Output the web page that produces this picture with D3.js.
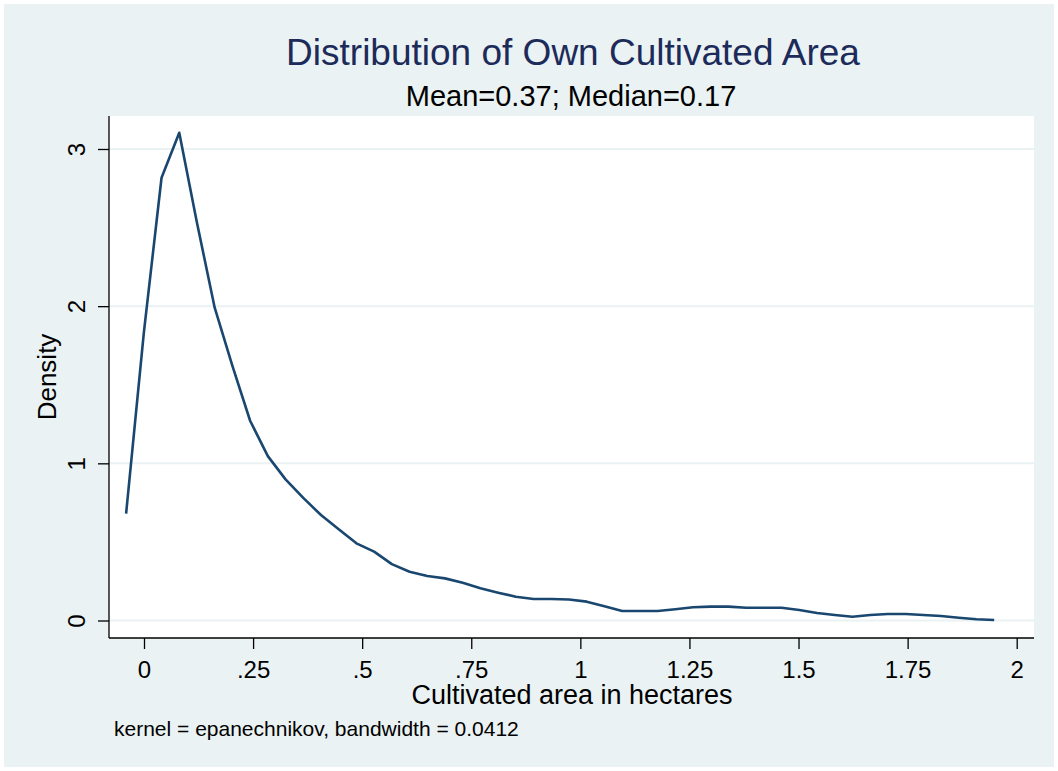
<!DOCTYPE html>
<html>
<head>
<meta charset="utf-8">
<script src="https://d3js.org/d3.v7.min.js"></script>
<style>
  body { margin: 0; background: #ffffff; }
  svg text { font-family: "Liberation Sans", Arial, sans-serif; }
</style>
</head>
<body>
<div id="chart"></div>
<script>
// kernel density estimate (50 evaluation points)
var gridX = [-0.041, -0.0004, 0.0402, 0.0808, 0.1214, 0.162, 0.2026, 0.2432, 0.2838, 0.3244,
  0.365, 0.4056, 0.4462, 0.4868, 0.5274, 0.568, 0.6086, 0.6492, 0.6898, 0.7304,
  0.771, 0.8116, 0.8522, 0.8928, 0.9334, 0.974, 1.0146, 1.0552, 1.0958, 1.1364,
  1.177, 1.2176, 1.2582, 1.2988, 1.3394, 1.38, 1.4206, 1.4612, 1.5018, 1.5424,
  1.583, 1.6236, 1.6642, 1.7048, 1.7454, 1.786, 1.8266, 1.8672, 1.9078, 1.9484];
var density = [0.68, 1.83, 2.817, 3.103, 2.531, 1.99, 1.62, 1.271, 1.046, 0.898,
  0.78, 0.671, 0.58, 0.491, 0.438, 0.359, 0.31, 0.283, 0.268, 0.24,
  0.205, 0.177, 0.151, 0.137, 0.137, 0.134, 0.12, 0.09, 0.06, 0.06,
  0.06, 0.072, 0.084, 0.088, 0.088, 0.081, 0.081, 0.081, 0.067, 0.048,
  0.035, 0.024, 0.035, 0.041, 0.041, 0.035, 0.029, 0.018, 0.008, 0.003];

var xTicks = [0, 0.25, 0.5, 0.75, 1, 1.25, 1.5, 1.75, 2];
var xTickLabels = ["0", ".25", ".5", ".75", "1", "1.25", "1.5", "1.75", "2"];
var yTicks = [0, 1, 2, 3];

var titleText = "Distribution of Own Cultivated Area";
var subtitleText = "Mean=0.37; Median=0.17";
var xTitle = "Cultivated area in hectares";
var yTitle = "Density";
var noteText = "kernel = epanechnikov, bandwidth = 0.0412";

var W = 1058, H = 771;
var plot = { left: 109, right: 1034, top: 116, bottom: 638 };

var svg = d3.select("#chart").append("svg")
  .attr("width", W)
  .attr("height", H);

// graph region
svg.append("rect")
  .attr("x", 4).attr("y", 4)
  .attr("width", W - 8).attr("height", H - 8)
  .attr("fill", "#eaf2f3");

// plot region
svg.append("rect")
  .attr("x", plot.left).attr("y", plot.top)
  .attr("width", plot.right - plot.left).attr("height", plot.bottom - plot.top)
  .attr("fill", "#ffffff");

var x = d3.scaleLinear().domain([0, 2]).range([144, 1016.7]);
var y = d3.scaleLinear().domain([0, 3]).range([620.5, 149]);

// gridlines
svg.append("g")
  .selectAll("line")
  .data(yTicks)
  .enter().append("line")
  .attr("x1", plot.left).attr("x2", plot.right)
  .attr("y1", function(d) { return y(d); })
  .attr("y2", function(d) { return y(d); })
  .attr("stroke", "#eaf2f3")
  .attr("stroke-width", 2);

// x axis
var xAxis = svg.append("g")
  .attr("transform", "translate(0," + plot.bottom + ")")
  .call(d3.axisBottom(x).tickValues(xTicks)
    .tickFormat(function(d, i) { return xTickLabels[i]; })
    .tickSizeInner(11).tickSizeOuter(0).tickPadding(12));
xAxis.select(".domain").remove();
xAxis.append("line")
  .attr("x1", plot.left).attr("x2", plot.right)
  .attr("stroke", "#000").attr("stroke-width", 1.3);
xAxis.selectAll(".tick line").attr("stroke", "#000").attr("stroke-width", 1.3);
xAxis.selectAll(".tick text")
  .attr("fill", "#000")
  .style("font-size", "24px")
  .style("font-family", "'Liberation Sans', Arial, sans-serif");

// y axis
var yAxis = svg.append("g")
  .attr("transform", "translate(" + plot.left + ",0)")
  .call(d3.axisLeft(y).tickValues(yTicks)
    .tickFormat(d3.format("d"))
    .tickSizeInner(11).tickSizeOuter(0));
yAxis.select(".domain").remove();
yAxis.append("line")
  .attr("y1", plot.top).attr("y2", plot.bottom)
  .attr("stroke", "#000").attr("stroke-width", 1.3);
yAxis.selectAll(".tick line").attr("stroke", "#000").attr("stroke-width", 1.3);
yAxis.selectAll(".tick text")
  .attr("x", null).attr("dy", null)
  .attr("text-anchor", "middle")
  .attr("transform", "translate(-24,0) rotate(-90)")
  .attr("fill", "#000")
  .style("font-size", "24px")
  .style("font-family", "'Liberation Sans', Arial, sans-serif");

// density curve
var line = d3.line()
  .x(function(d, i) { return x(gridX[i]); })
  .y(function(d) { return y(d); });

svg.append("path")
  .datum(density)
  .attr("d", line)
  .attr("fill", "none")
  .attr("stroke", "#1a476f")
  .attr("stroke-width", 2.6)
  .attr("stroke-linejoin", "round");

// titles
svg.append("text")
  .attr("x", 573).attr("y", 65)
  .attr("text-anchor", "middle")
  .attr("fill", "#1c2b5a")
  .style("font-size", "37px")
  .text(titleText);

svg.append("text")
  .attr("x", 571).attr("y", 106)
  .attr("text-anchor", "middle")
  .attr("fill", "#000")
  .style("font-size", "29px")
  .text(subtitleText);

svg.append("text")
  .attr("x", 572).attr("y", 704)
  .attr("text-anchor", "middle")
  .attr("fill", "#000")
  .style("font-size", "27px")
  .text(xTitle);

svg.append("text")
  .attr("transform", "translate(56,377) rotate(-90)")
  .attr("text-anchor", "middle")
  .attr("fill", "#000")
  .style("font-size", "26px")
  .text(yTitle);

svg.append("text")
  .attr("x", 114).attr("y", 736)
  .attr("fill", "#000")
  .style("font-size", "21px")
  .text(noteText);
</script>
</body>
</html>
